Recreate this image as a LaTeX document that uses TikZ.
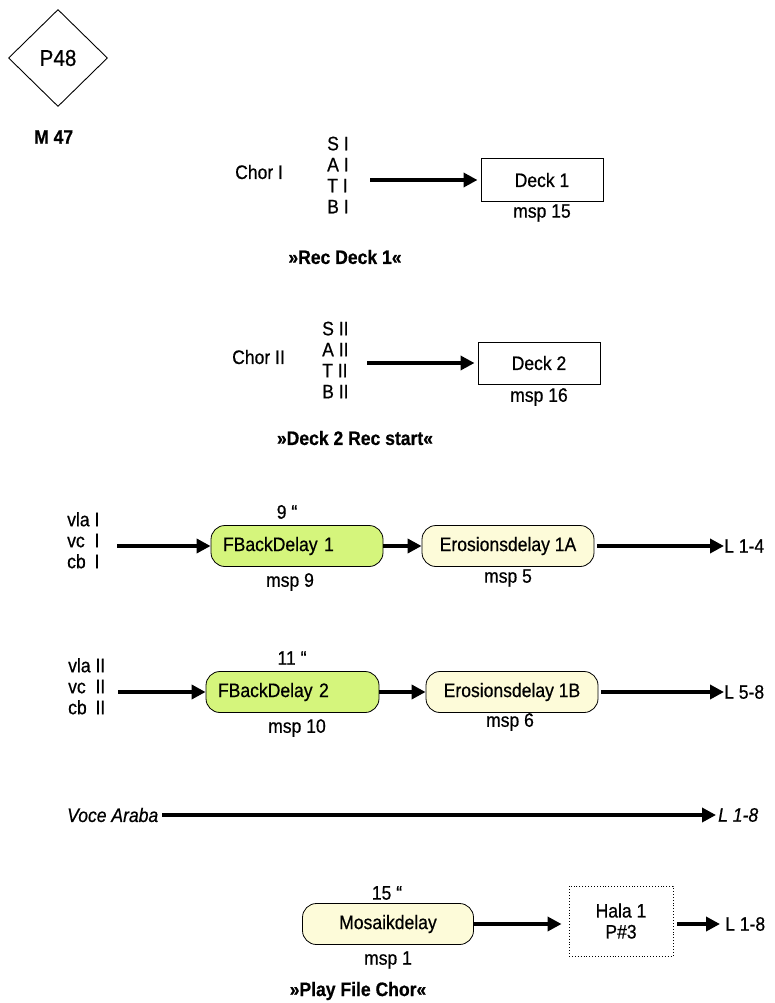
\documentclass[tikz,border=0pt]{standalone}
\usepackage{fontspec}
\setmainfont{Liberation Sans}[FakeStretch=0.9, FakeBold=0.6]
\usetikzlibrary{arrows.meta,shapes.geometric}
\definecolor{fbgreen}{HTML}{D5F57C}
\definecolor{erocream}{HTML}{FDFBD9}
\begin{document}
\begin{tikzpicture}[x=1pt,y=-1pt,
  every node/.style={font=\fontsize{19.5}{21}\selectfont},
  lbl/.style={inner sep=0pt},
  lft/.style={inner sep=0pt, anchor=west},
  bld/.style={font=\fontsize{19.5}{21}\selectfont\bfseries},
  itl/.style={font=\fontsize{19.5}{21}\selectfont\itshape},
  deckbox/.style={draw, line width=1pt, minimum width=122pt, minimum height=42pt, inner sep=0pt},
  fbbox/.style={draw, line width=0.8pt, rounded corners=14pt, fill=fbgreen, minimum height=41pt, text width=148pt, align=left, inner xsep=12pt, inner ysep=0pt},
  erobox/.style={draw, line width=0.8pt, rounded corners=14pt, fill=erocream, minimum height=41pt, minimum width=172pt, inner sep=0pt},
  conn/.style={line width=3.5pt, -{Triangle[length=14pt,width=14pt]}}]
\useasboundingbox (0,0) rectangle (774,1003);

% header
\node[draw, diamond, line width=0.9pt, minimum width=99pt, minimum height=97pt, inner sep=0pt, font=\fontsize{23}{26}\selectfont] (p48) at (58,58) {P48};
\node[lft, bld] (m47) at (34,137) {M 47};

% row 1
\node[lft] (chor1) at (235,172) {Chor I};
\node[lft, align=left] (satb1) at (327,175) {S I\\A I\\T I\\B I};
\coordinate (a1s) at (370,180);
\node[deckbox] (deck1) at (542,180) {Deck 1};
\node[lbl] (msp15) at (542,213) {msp 15};
\draw[conn, shorten >=3pt] (a1s) -- (deck1);
\node[lbl, bld] (rec1) at (345,257) {»Rec Deck 1«};

% row 2
\node[lft] (chor2) at (232,357) {Chor II};
\node[lft, align=left] (satb2) at (322,360) {S II\\A II\\T II\\B II};
\coordinate (a2s) at (367,363);
\node[deckbox] (deck2) at (539,363) {Deck 2};
\node[lbl] (msp16) at (539,397) {msp 16};
\draw[conn, shorten >=3pt] (a2s) -- (deck2);
\node[lbl, bld] (rec2) at (355,438) {»Deck 2 Rec start«};

% row 3
\node[lft] (str3) at (67,543) {\begin{tabular}{@{}l@{ }l@{}}vla&I\\vc&I\\cb&I\end{tabular}};
\coordinate (a3s) at (117,546);
\node[fbbox] (fb1) at (297,546) {FBackDelay 1};
\node[lbl] (t9) at (287,512) {9 “};
\node[lbl] (msp9) at (290,582) {msp 9};
\node[erobox] (ero1a) at (508,546) {Erosionsdelay 1A};
\node[lbl] (msp5) at (508,578) {msp 5};
\node[lft] (l14) at (724,546) {L 1-4};
\draw[conn] (a3s) -- (fb1);
\draw[conn] (fb1) -- (ero1a);
\draw[conn, shorten <=3pt] (ero1a) -- (l14);

% row 4
\node[lft] (str4) at (68,689) {\begin{tabular}{@{}l@{ }l@{}}vla&II\\vc&II\\cb&II\end{tabular}};
\coordinate (a4s) at (118,692);
\node[fbbox, text width=149pt] (fb2) at (292.5,692) {FBackDelay 2};
\node[lbl] (t11) at (292,658) {11 “};
\node[lbl] (msp10) at (297,728) {msp 10};
\node[erobox] (ero1b) at (512,692) {Erosionsdelay 1B};
\node[lbl] (msp6) at (510,722) {msp 6};
\node[lft] (l58) at (724,692) {L 5-8};
\draw[conn] (a4s) -- (fb2);
\draw[conn] (fb2) -- (ero1b);
\draw[conn, shorten <=3pt] (ero1b) -- (l58);

% row 5
\node[lft, itl] (voce) at (67,815) {Voce Araba};
\node[lft, itl] (l18a) at (718,815) {L 1-8};
\draw[conn, shorten <=4pt, shorten >=2pt] (voce) -- (l18a);

% row 6
\node[lbl] (t15) at (387,893) {15 “};
\node[erobox, minimum width=171pt] (mosaik) at (388,924) {Mosaikdelay};
\node[lbl] (msp1) at (388,960) {msp 1};
\node[draw, dotted, line width=0.9pt, minimum width=104pt, minimum height=70pt, align=center, inner sep=0pt] (hala) at (621,921) {Hala 1\\P\#3};
\node[lft] (l18b) at (725,924) {L 1-8};
\draw[conn, shorten >=7pt] (mosaik.east) -- (mosaik.east -| hala.west);
\draw[conn, shorten <=4pt, shorten >=5pt] (hala.east |- l18b) -- (l18b);
\node[lbl, bld] (play) at (358,991) {»Play File Chor«};
\end{tikzpicture}
\end{document}
